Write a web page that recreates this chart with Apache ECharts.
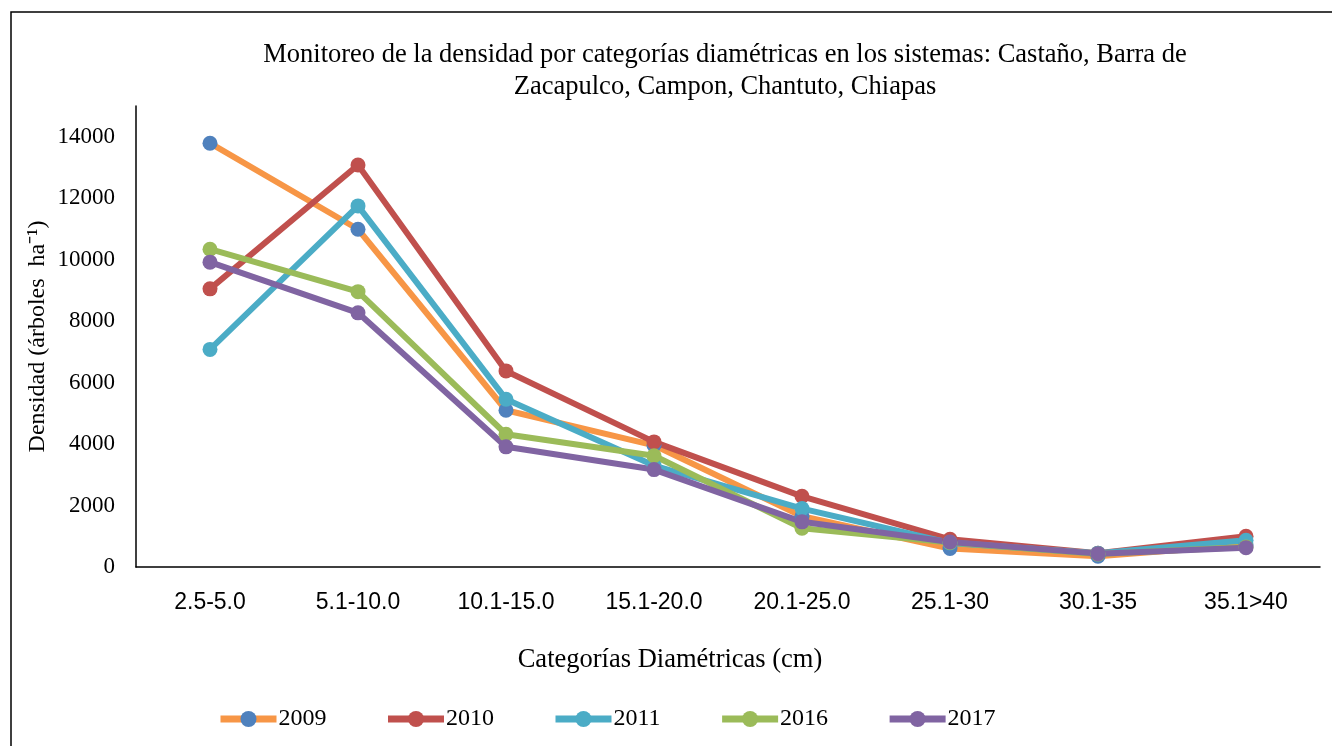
<!DOCTYPE html>
<html>
<head>
<meta charset="utf-8">
<title>Densidad por categorías diamétricas</title>
<script src="https://cdn.jsdelivr.net/npm/echarts@6/dist/echarts.min.js"></script>
<style>
  html, body { margin: 0; padding: 0; background: #fff; }
  #main { width: 1332px; height: 746px; }
</style>
</head>
<body>
<div id="main"></div>
<script>
// categorías diamétricas (eje x)
const categorias = ['2.5-5.0', '5.1-10.0', '10.1-15.0', '15.1-20.0', '20.1-25.0', '25.1-30', '30.1-35', '35.1>40'];

// densidad (árboles ha-1) por año
const d2009 = [13790, 10990, 5100, 3960, 1650, 600, 350, 720];
const d2010 = [9050, 13080, 6380, 4070, 2300, 900, 450, 1000];
const d2011 = [7080, 11750, 5460, 3300, 1900, 780, 450, 870];
const d2016 = [10340, 8960, 4320, 3620, 1260, 800, 420, 650];
const d2017 = [9920, 8270, 3910, 3170, 1470, 815, 435, 630];

const yTicks = [0, 2000, 4000, 6000, 8000, 10000, 12000, 14000];

const serif = '"Liberation Serif", "Times New Roman", serif';

// cada serie: nombre, datos, color de línea, color de marcador
const series = [
  { name: '2009', data: d2009, line: '#F79646', dot: '#4F81BD' },
  { name: '2010', data: d2010, line: '#C0504D', dot: '#C0504D' },
  { name: '2011', data: d2011, line: '#4BACC6', dot: '#4BACC6' },
  { name: '2016', data: d2016, line: '#9BBB59', dot: '#9BBB59' },
  { name: '2017', data: d2017, line: '#8064A2', dot: '#8064A2' }
].map(s => ({
  name: s.name,
  type: 'line',
  data: s.data,
  symbol: 'circle',
  symbolSize: 15,
  showSymbol: true,
  lineStyle: { color: s.line, width: 6 },
  itemStyle: { color: s.dot },
  emphasis: { disabled: true },
  animation: false
}));

const chartDom = document.getElementById('main');
const myChart = echarts.init(chartDom);

const option = {
  backgroundColor: '#fff',
  title: {
    text: 'Monitoreo de la densidad por categorías diamétricas en los sistemas: Castaño, Barra de\nZacapulco, Campon, Chantuto, Chiapas',
    left: 720,
    top: 34,
    textAlign: 'center',
    textStyle: {
      fontFamily: serif,
      fontSize: 26.5,
      fontWeight: 'normal',
      color: '#000',
      lineHeight: 32
    }
  },
  legend: {
    left: 212,
    top: 702,
    itemWidth: 56,
    itemHeight: 20,
    itemGap: 58,
    lineStyle: { width: 7 },
    textStyle: { fontFamily: serif, fontSize: 24, color: '#000', padding: [0, 0, 0, -3] },
    data: ['2009', '2010', '2011', '2016', '2017']
  },
  grid: {
    left: 136,
    right: 12,
    top: 106,
    bottom: 179
  },
  xAxis: {
    type: 'category',
    data: categorias,
    boundaryGap: true,
    axisLine: { lineStyle: { color: '#000', width: 1.5 } },
    axisTick: { show: false },
    axisLabel: {
      fontFamily: '"Liberation Sans", Arial, sans-serif',
      fontSize: 23,
      color: '#000',
      margin: 24
    }
  },
  yAxis: {
    type: 'value',
    min: yTicks[0],
    max: 15000,
    interval: 2000,
    name: 'Densidad (árboles  ha⁻¹)',
    nameLocation: 'middle',
    nameGap: 86,
    nameMoveOverlap: false,
    nameTextStyle: { fontFamily: serif, fontSize: 24, color: '#000' },
    axisLine: { show: true, lineStyle: { color: '#000', width: 1.5 } },
    axisTick: { show: false },
    splitLine: { show: false },
    axisLabel: {
      fontFamily: serif,
      fontSize: 23,
      color: '#000',
      margin: 21,
      showMaxLabel: false,
      formatter: v => String(v)
    }
  },
  graphic: [
    {
      type: 'rect',
      silent: true,
      shape: { x: 11, y: 12, width: 1400, height: 800 },
      style: { fill: 'none', stroke: '#000', lineWidth: 1.5 }
    },
    {
      type: 'text',
      silent: true,
      x: 670,
      y: 660,
      style: {
        text: 'Categorías Diamétricas (cm)',
        font: '26.5px ' + serif,
        fill: '#000',
        textAlign: 'center',
        textVerticalAlign: 'middle'
      }
    }
  ],
  series: series
};

myChart.setOption(option);
window.addEventListener('resize', () => {
  myChart.resize();
});
</script>
</body>
</html>
